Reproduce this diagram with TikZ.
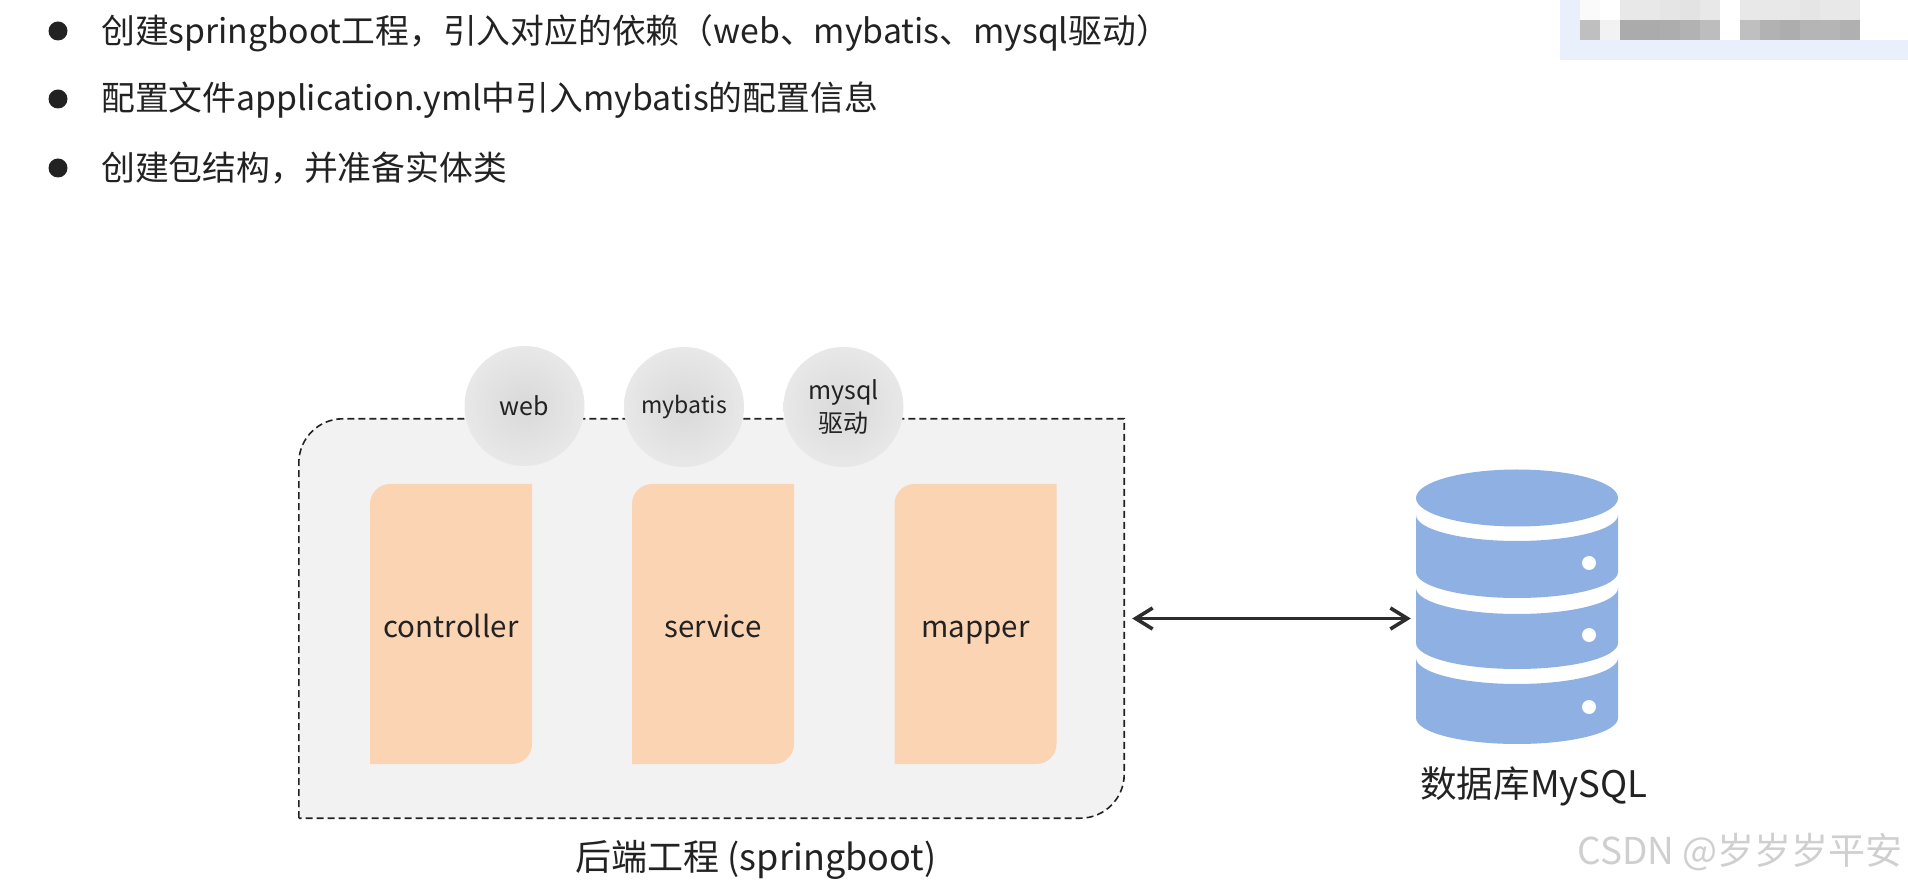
\documentclass[tikz,border=0pt]{standalone}
\usepackage{fontspec}
\setmainfont{Noto Sans CJK SC}
\usetikzlibrary{calc}
\usetikzlibrary{arrows.meta}
\definecolor{inkc}{HTML}{222222}
\definecolor{panelc}{HTML}{F2F2F2}
\definecolor{leafc}{HTML}{FBD4B4}
\definecolor{dbc}{HTML}{8EB0E3}
\definecolor{markc}{HTML}{CFCFCF}
\definecolor{blurc}{HTML}{E9F0FB}
\tikzset{
  bulletdot/.style={circle,fill=inkc,minimum size=19pt,inner sep=0pt},
  bullettext/.style={anchor=west,inner sep=0pt,text=inkc,font=\fontsize{33.8}{40}\selectfont},
  panelbox/.style={minimum width=825pt,minimum height=399pt,inner sep=0pt},
  panelline/.style={fill=panelc,draw=inkc,line width=1.6pt,dash pattern=on 7pt off 4pt},
  leaftext/.style={anchor=base,text=inkc,font=\fontsize{29.5}{36}\selectfont},
  depball/.style={circle,minimum size=120pt,inner sep=0pt,inner color=black!15,outer color=black!9,
    text=inkc,align=center,font=\fontsize{25}{31}\selectfont},
  captext/.style={text=inkc,font=\fontsize{36}{42}\selectfont},
  linkarrow/.style={{Straight Barb[length=17pt,width=21pt,line width=3.6pt]}-{Straight Barb[length=17pt,width=21pt,line width=3.6pt]},
    draw=inkc!95,line width=3.6pt}
}
\begin{document}
\begin{tikzpicture}[x=1pt,y=1pt]
  \useasboundingbox (0,0) rectangle (1908,884);
  % blurred corner
  \fill[blurc] (1560,824) rectangle (1908,844);
  \fill[blurc] (1560,844) rectangle (1580,884);
  \foreach \x/\u/\l in {1580/98/75, 1600/100/95, 1620/91/67, 1640/91/67, 1660/90/68, 1680/89/70, 1700/91/74,
      1740/91/75, 1760/91/70, 1780/91/68, 1800/90/71, 1820/91/71, 1840/91/69} {
    \fill[white!\u!black] (\x,864) rectangle ++(20,20);
    \fill[white!\l!black] (\x,844) rectangle ++(20,20);
  }
  % bullets
  \node (dot1) [bulletdot] at (58,853) {};
  \node (dot2) [bulletdot] at (58,785) {};
  \node (dot3) [bulletdot] at (58,716) {};
  \node (item1) [bullettext] at (101,851) {创建springboot工程，引入对应的依赖（web、mybatis、mysql驱动）};
  \node (item2) [bullettext] at (101,784) {配置文件application.yml中引入mybatis的配置信息};
  \node (item3) [bullettext] at (101,716) {创建包结构，并准备实体类};
  % backend panel
  \node (backend) [panelbox] at (711.5,265.5) {};
  \draw[panelline] (backend.south west) [rounded corners=44pt] -- (backend.north west) [sharp corners]
    -- (backend.north east) [rounded corners=44pt] -- (backend.south east) [sharp corners] -- cycle;
  \foreach \n/\x/\t in {controller/451/controller, service/713/service, mapper/975.5/mapper} {
    \fill[leafc] ({\x-81},120) [rounded corners=20pt] -- ({\x-81},400) [sharp corners] -- ({\x+81},400)
      [rounded corners=20pt] -- ({\x+81},120) [sharp corners] -- cycle;
    \node (\n) [leaftext] at (\x,247) {\t};
  }
  \node (web) [depball] at (524.5,478) {web};
  \node (mybatis) [depball,font=\fontsize{23}{29}\selectfont] at (684,477) {mybatis};
  \node (driver) [depball] at (843.5,477) {mysql\\[2pt]驱动};
  \node (backendcap) [captext] at (756,24) {后端工程 (springboot)};
  % database
  \node (db) [minimum width=202pt,minimum height=273pt,inner sep=0pt] at (1517,277.5) {};
  \fill[dbc] (1517,386) ellipse [x radius=101pt,y radius=28.5pt];
  \foreach \t/\b in {369/312, 296/241, 226/166} {
    \fill[dbc] (1416,\t) arc [start angle=180,end angle=360,x radius=101pt,y radius=26pt]
      -- (1618,\b) arc [start angle=360,end angle=180,x radius=101pt,y radius=26pt] -- cycle;
  }
  \foreach \y in {321,249,177} {
    \fill[white] (1589,\y) circle (7pt);
  }
  \node (dbcap) [captext,anchor=west,inner sep=0pt,font=\fontsize{36.6}{42}\selectfont] at (1420,98) {数据库MySQL};
  \draw[linkarrow] ([xshift=8pt]backend.east) -- ([xshift=-5pt]db.west |- backend.east);
  \node (mark) [anchor=east,inner sep=0pt,text=markc,font=\fontsize{37}{42}\selectfont] at (1903,32) {CSDN @岁岁岁平安};
\end{tikzpicture}
\end{document}
